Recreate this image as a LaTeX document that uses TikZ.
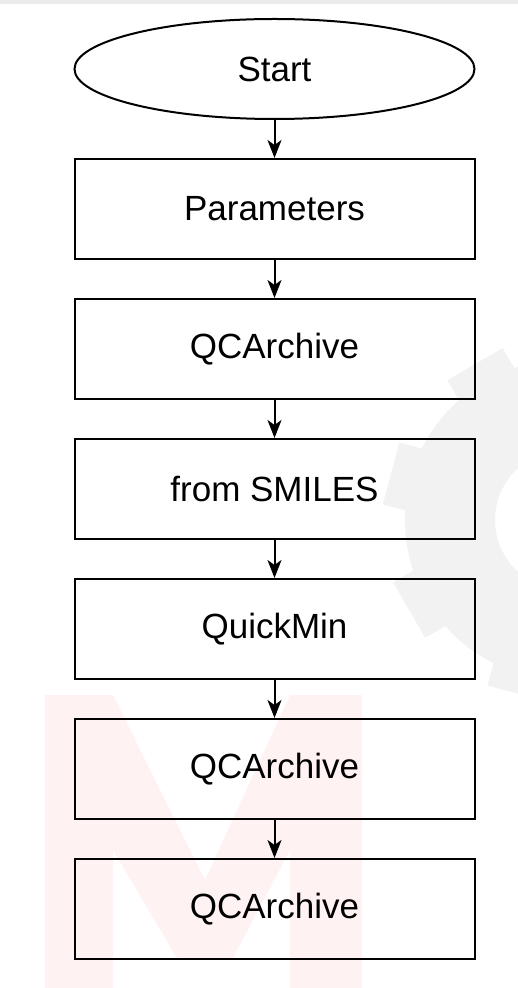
\documentclass[tikz,border=0pt]{standalone}
\usepackage{fontspec}
\setmainfont{Liberation Sans}
\usepackage{tikz}
\usetikzlibrary{positioning,shapes,arrows.meta}

\begin{document}
\begin{tikzpicture}[x=0.5pt,y=-0.5pt,node distance=19pt,
        every node/.style={font=\fontsize{17.5}{20}\selectfont},
        box/.style={draw,line width=1pt,minimum width=200pt,minimum height=50pt,inner sep=0pt},
        term/.style={box,ellipse},
        flow/.style={-{Stealth[length=9pt,width=7pt,inset=2.5pt]},line width=1pt}]
        \useasboundingbox (0,0) rectangle (518,988);
        % background
        \fill[black!8] (0,0) rectangle (518,4);
        \begin{scope}
            \clip (0,0) rectangle (518,988);
            \fill[red!5] (45,988) -- (45,695) -- (113,695) -- (205,880) -- (290,695) -- (362,695)
                -- (362,988) -- (290,988) -- (290,850) -- (232,960) -- (178,960) -- (113,850) -- (113,988) -- cycle;
            \fill[black!5,even odd rule] (565,520) circle (160) (565,520) circle (70);
            \foreach \a in {120,165,210,255} \fill[black!5,rotate around={\a:(565,520)}] (715,488) rectangle (745,552);
        \end{scope}

        \node[term] (start) at (274.5,69) {Start};
        \node[box,below=of start] (param) {Parameters};
        \node[box,below=of param] (qca1) {QCArchive};
        \node[box,below=of qca1] (smiles) {from SMILES};
        \node[box,below=of smiles] (quick) {QuickMin};
        \node[box,below=of quick] (qca2) {QCArchive};
        \node[box,below=of qca2] (qca3) {QCArchive};

        \draw[flow] (start) -- (param);
        \draw[flow] (param) -- (qca1);
        \draw[flow] (qca1) -- (smiles);
        \draw[flow] (smiles) -- (quick);
        \draw[flow] (quick) -- (qca2);
        \draw[flow] (qca2) -- (qca3);
    \end{tikzpicture}
\end{document}
